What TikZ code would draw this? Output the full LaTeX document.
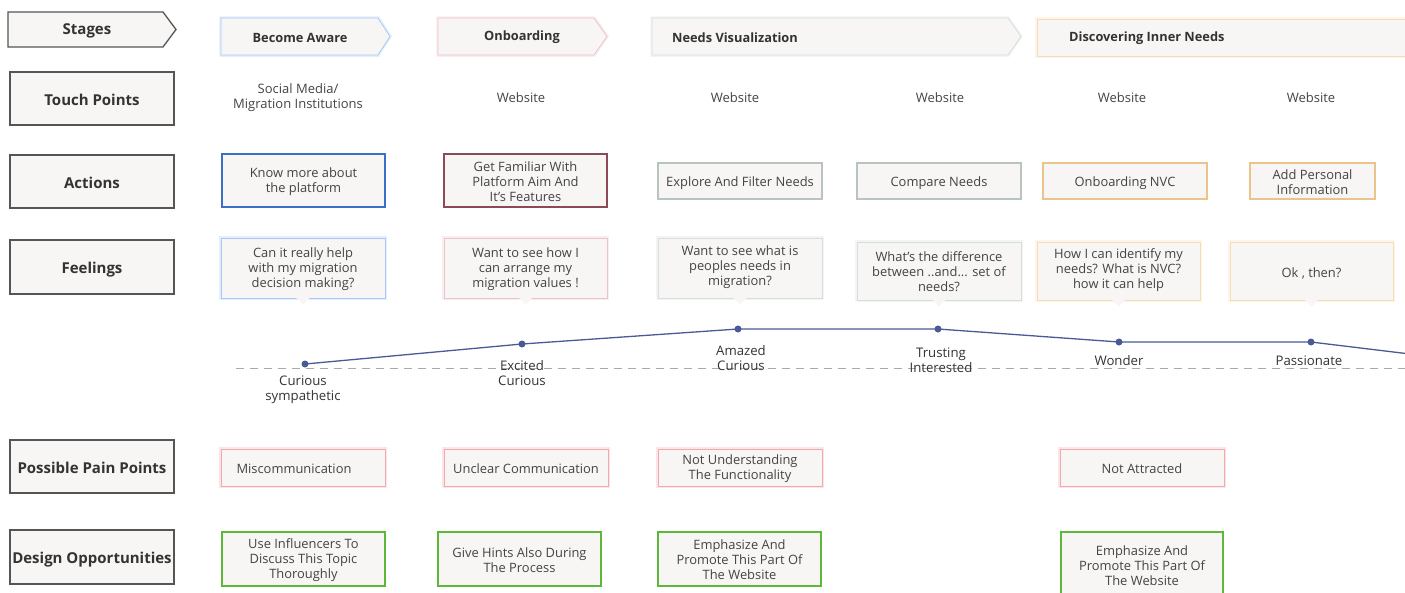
\documentclass[tikz,border=0pt]{standalone}
\usepackage{fontspec}
\setmainfont{Open Sans}
\usetikzlibrary{calc}
\definecolor{boxfill}{HTML}{F7F6F4}
\definecolor{lblborder}{HTML}{555555}
\definecolor{txt}{HTML}{444444}
\definecolor{head}{HTML}{333333}
\definecolor{cblue}{HTML}{3C6EC8}
\definecolor{cwine}{HTML}{8A4B56}
\definecolor{cgrey}{HTML}{B9C3BF}
\definecolor{corange}{HTML}{EAC48A}
\definecolor{gblue}{HTML}{A9C8F5}
\definecolor{gpink}{HTML}{EBC3CB}
\definecolor{ggrey}{HTML}{D5DEDA}
\definecolor{gorange}{HTML}{F6DDB5}
\definecolor{gred}{HTML}{F2A9AE}
\definecolor{cgreen}{HTML}{5DB83A}
\definecolor{curvecol}{HTML}{4A5A96}
\definecolor{dashgrey}{HTML}{AAAAAA}
\tikzset{
  rowlbl/.style={draw=lblborder, line width=1.3pt, fill=boxfill, inner sep=0pt, outer sep=0pt,
    minimum width=164pt, font=\fontsize{15}{18}\selectfont\bfseries, text=head,
    text height=13.6pt, text depth=0pt},
  plain/.style={inner sep=0pt, outer sep=0pt, fill=boxfill},
  solidbox/.style={plain, draw=#1, line width=1.1pt},
  glowbox/.style={plain, draw=#1, line width=0.8pt,
    preaction={draw=#1, line width=3.5pt, draw opacity=0.3}},
  stagepath/.style={fill=boxfill, draw=#1, line width=0.8pt,
    preaction={draw=#1, line width=3.5pt, draw opacity=0.3}},
  boxtxt/.style={font=\fontsize{12.9}{15}\selectfont, text=txt, align=center, inner sep=0pt},
  stagetxt/.style={font=\fontsize{12.8}{15}\selectfont\bfseries, text=head, inner sep=0pt},
  tptxt/.style={font=\fontsize{13}{15}\selectfont, text=txt, align=center, inner sep=0pt},
  emo/.style={font=\fontsize{13.2}{15}\selectfont, text=head, align=center, inner sep=0pt},
  dot/.style={circle, fill=curvecol, inner sep=0pt, minimum size=7pt},
}
\begin{document}
\begin{tikzpicture}[x=1pt,y=-1pt]
\useasboundingbox (0,0) rectangle (1405,592);
\clip (0,0) rectangle (1405,592);

% ---- row labels ----
\draw[fill=boxfill, draw=lblborder, line width=1.3pt] (8,12) -- (163,12) -- (176,29.5) -- (163,47) -- (8,47) -- cycle;
\node[stagetxt, font=\fontsize{15}{18}\selectfont\bfseries, text height=10.7pt, text depth=0pt] (lstages) at (87,29.5) {Stages};
\node[rowlbl, minimum height=53pt] (ltouch) at (92,98.5) {Touch Points};
\node[rowlbl, minimum height=53pt] (lact) at (92,181.5) {Actions};
\node[rowlbl, minimum height=54pt] (lfeel) at (92,267) {Feelings};
\node[rowlbl, minimum height=53pt] (lpain) at (92,466.5) {Possible Pain Points};
\node[rowlbl, minimum height=54pt] (ldes) at (92,557) {Design Opportunities};

% ---- stages ----
\draw[stagepath=gblue] (221,18) -- (378,18) -- (390,36.5) -- (378,55) -- (221,55) -- cycle;
\node[stagetxt] (s1) at (300,37.5) {Become Aware};
\draw[stagepath=gpink] (438,18) -- (594,18) -- (607,36.5) -- (594,55) -- (438,55) -- cycle;
\node[stagetxt] (s2) at (522,37.5) {Onboarding};
\draw[stagepath=ggrey] (652,18) -- (1008,18) -- (1021,36.5) -- (1008,55) -- (652,55) -- cycle;
\node[stagetxt, anchor=west] (s3) at (672,37.5) {Needs Visualization};
\draw[stagepath=gorange] (1037,19) -- (1430,19) -- (1430,56) -- (1037,56) -- cycle;
\node[stagetxt, anchor=west] (s4) at (1069,38.5) {Discovering Inner Needs};

% ---- touch points ----
\node[tptxt] (t1) at (298,98) {Social Media/\\Migration Institutions};
\node[tptxt] (t2) at (521,98) {Website};
\node[tptxt] (t3) at (735,98) {Website};
\node[tptxt] (t4) at (940,98) {Website};
\node[tptxt] (t5) at (1122,98) {Website};
\node[tptxt] (t6) at (1311,98) {Website};

% ---- actions ----
\node[solidbox=cblue, minimum width=163pt, minimum height=53pt] (a1) at (303.5,180.5) {};
\node[solidbox=cwine, minimum width=163pt, minimum height=53pt] (a2) at (525.5,180.5) {};
\node[solidbox=cgrey, minimum width=164pt, minimum height=36pt] (a3) at (740,181) {};
\node[solidbox=cgrey, minimum width=164pt, minimum height=36pt] (a4) at (939,181) {};
\node[solidbox=corange, minimum width=164pt, minimum height=36pt] (a5) at (1125,181) {};
\node[solidbox=corange, minimum width=125pt, minimum height=36pt] (a6) at (1312.5,181) {};
\node[boxtxt] (a1t) at ([yshift=-1.5pt]a1.center) {Know more about\\the platform};
\node[boxtxt] (a2t) at ([yshift=-1.5pt]a2.center) {Get Familiar With\\Platform Aim And\\It's Features};
\node[boxtxt] (a3t) at ([yshift=-2pt]a3.center) {Explore And Filter Needs};
\node[boxtxt] (a4t) at ([yshift=-2pt]a4.center) {Compare Needs};
\node[boxtxt] (a5t) at ([yshift=-2pt]a5.center) {Onboarding NVC};
\node[boxtxt] (a6t) at ([yshift=-1.5pt]a6.center) {Add Personal\\Information};

% ---- feelings ----
\node[glowbox=gblue, minimum width=164pt, minimum height=60pt] (f1) at (303,268) {};
\node[glowbox=gpink, minimum width=163pt, minimum height=60pt] (f2) at (525.5,268) {};
\node[glowbox=ggrey, minimum width=164pt, minimum height=60pt] (f3) at (740,268) {};
\node[glowbox=ggrey, minimum width=164pt, minimum height=58pt] (f4) at (939,271) {};
\node[glowbox=gorange, minimum width=163pt, minimum height=58pt] (f5) at (1118.5,271) {};
\node[glowbox=gorange, minimum width=163pt, minimum height=58pt] (f6) at (1311.5,271) {};
\foreach \f in {f1,f2,f3,f4,f5,f6}{
  \fill[boxfill] ($(\f.south)+(-7,-0.5)$) -- ++(7,7) -- ++(7,-7) -- cycle;
}
\node[boxtxt] (f1t) at ([yshift=-1pt]f1.center) {Can it really help\\with my migration\\decision making?};
\node[boxtxt] (f2t) at ([yshift=-1pt]f2.center) {Want to see how I\\can arrange my\\migration values !};
\node[boxtxt] (f3t) at ([yshift=1pt]f3.center) {Want to see what is\\peoples needs in\\migration?};
\node[boxtxt] (f4t) at ([yshift=-1pt]f4.center) {What's the difference\\between ..and... set of\\needs?};
\node[boxtxt] (f5t) at ([yshift=1pt]f5.center) {How I can identify my\\needs? What is NVC?\\how it can help};
\node[boxtxt] (f6t) at ([yshift=-2pt]f6.center) {Ok , then?};

% ---- emotion curve ----
\coordinate (dl) at (236,368);
\coordinate (dr) at (1405,368);
\draw[dashgrey, dash pattern=on 8pt off 6pt, line width=0.9pt] (dl) -- (dr);
\node[dot] (e1) at (305,364) {};
\node[dot] (e2) at (522,344) {};
\node[dot] (e3) at (738,329) {};
\node[dot] (e4) at (938,329) {};
\node[dot] (e5) at (1119,342) {};
\node[dot] (e6) at (1311,342) {};
\coordinate (e7) at (1410,354);
\draw[curvecol, line width=1.3pt] (e1.center) -- (e2.center) -- (e3.center) -- (e4.center) -- (e5.center) -- (e6.center) -- (e7);
\node[emo] (m1) at (303,390) {Curious\\sympathetic};
\node[emo] (m2) at (522,373) {Excited\\Curious};
\node[emo] (m3) at (741,358) {Amazed\\Curious};
\node[emo] (m4) at (941,360) {Trusting\\Interested};
\node[emo] (m5) at (1119,361) {Wonder};
\node[emo] (m6) at (1309,361) {Passionate};

% ---- pain points ----
\node[glowbox=gred, minimum width=164pt, minimum height=37pt] (p1) at (303,467.5) {};
\node[glowbox=gred, minimum width=164pt, minimum height=37pt] (p2) at (526,467.5) {};
\node[glowbox=gred, minimum width=164pt, minimum height=37pt] (p3) at (740,467.5) {};
\node[glowbox=gred, minimum width=164pt, minimum height=37pt] (p4) at (1142,467.5) {};
\node[boxtxt] (p1t) at (294,469) {Miscommunication};
\node[boxtxt] (p2t) at ([yshift=-1.5pt]p2.center) {Unclear Communication};
\node[boxtxt] (p3t) at ([yshift=-1pt]p3.center) {Not Understanding\\The Functionality};
\node[boxtxt] (p4t) at ([yshift=-1.5pt]p4.center) {Not Attracted};

% ---- design opportunities ----
\node[solidbox=cgreen, minimum width=163pt, minimum height=54pt] (d1) at (303.5,559) {};
\node[solidbox=cgreen, minimum width=163pt, minimum height=54pt] (d2) at (519.5,559) {};
\node[solidbox=cgreen, minimum width=163pt, minimum height=54pt] (d3) at (739.5,559) {};
\node[solidbox=cgreen, minimum width=162pt, minimum height=66pt] (d4) at (1142,565) {};
\node[boxtxt] (d1t) at ([yshift=-1pt]d1.center) {Use Influencers To\\Discuss This Topic\\Thoroughly};
\node[boxtxt] (d2t) at ([yshift=-1.5pt]d2.center) {Give Hints Also During\\The Process};
\node[boxtxt] (d3t) at ([yshift=-1pt]d3.center) {Emphasize And\\Promote This Part Of\\The Website};
\node[boxtxt] (d4t) at (1142,566) {Emphasize And\\Promote This Part Of\\The Website};
\end{tikzpicture}
\end{document}
